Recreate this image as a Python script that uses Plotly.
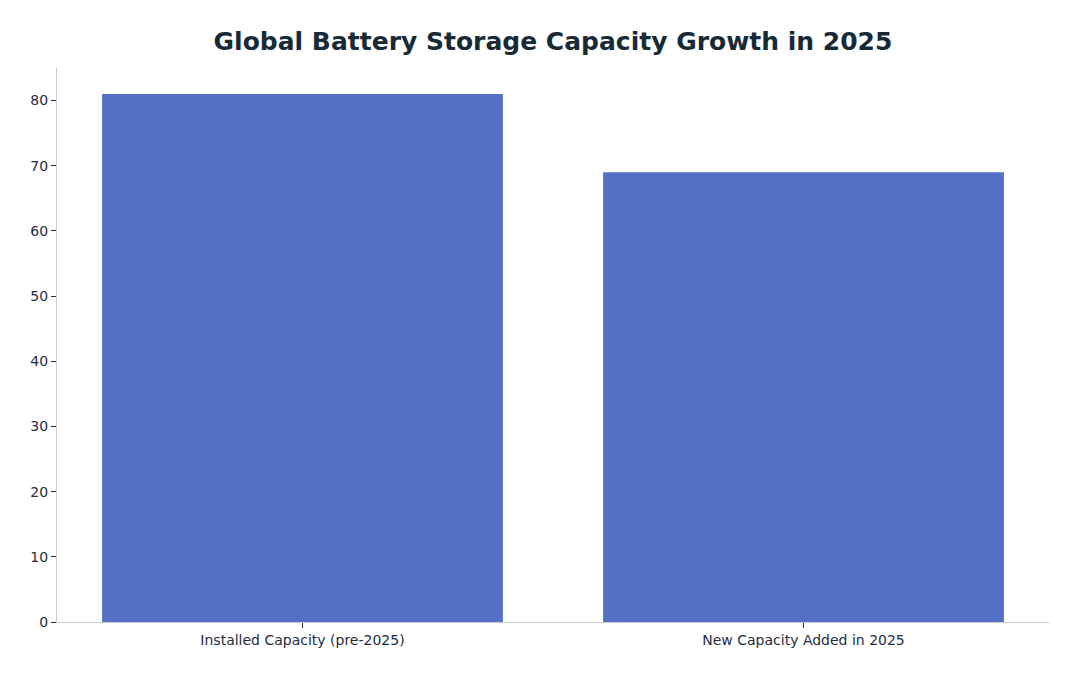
import plotly.graph_objects as go

categories = ["Installed Capacity (pre-2025)", "New Capacity Added in 2025"]
capacity = [81, 69]

fig = go.Figure()
fig.add_trace(go.Bar(x=categories, y=capacity, marker_color="#5470c6",
                     marker_line_width=0, width=0.8))

fig.update_layout(
    width=1079, height=676,
    margin=dict(l=49, r=38, t=60, b=62),
    paper_bgcolor="white", plot_bgcolor="white",
    font=dict(family="DejaVu Sans", size=14, color="#1f2d3d"),
    title=dict(text="<b>Global Battery Storage Capacity Growth in 2025</b>",
               x=0.5, xref="paper", xanchor="center", y=0.951, yanchor="middle",
               font=dict(size=25, color="#182a36")),
    showlegend=False,
)
fig.update_xaxes(range=[-0.49, 1.49], showline=True, linecolor="#cccccc", linewidth=1,
                 ticks="outside", ticklen=5, tickcolor="#333333", showgrid=False)
fig.update_yaxes(range=[0, 85], showline=True, linecolor="#cccccc", linewidth=1,
                 ticks="outside", ticklen=5, tickcolor="#333333", showgrid=False,
                 dtick=10, zeroline=False)

fig.write_html("out.html")
